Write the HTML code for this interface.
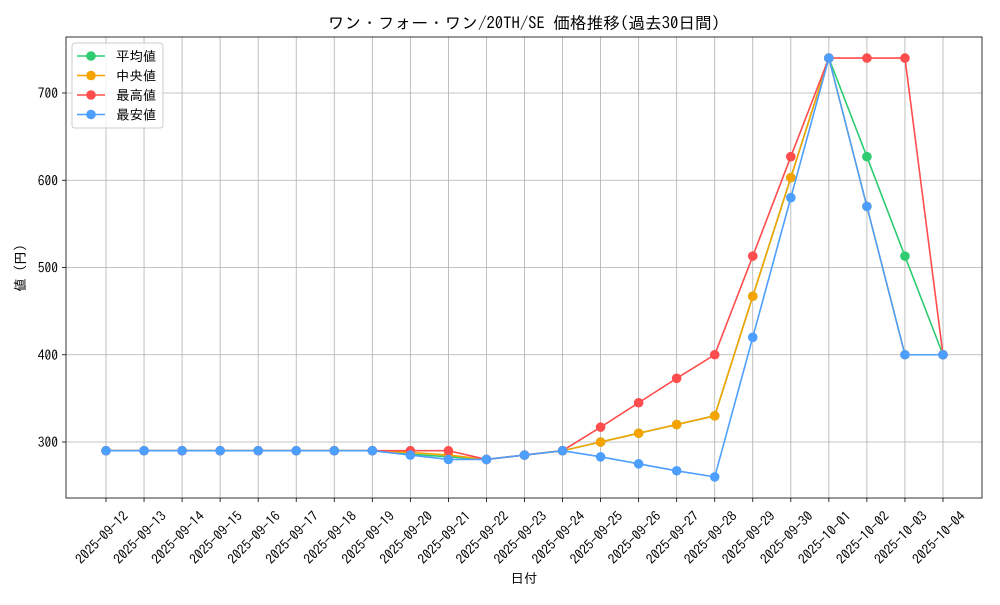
<!DOCTYPE html>
<html><head><meta charset="utf-8"><style>
body{margin:0;background:#fff}
svg text{font-family:"IPAGothic","Noto Sans CJK JP",sans-serif;fill:#000}
</style></head><body>
<svg id="s" width="1000" height="600" xmlns="http://www.w3.org/2000/svg"></svg>
<script>
const s=document.getElementById('s');const NS='http://www.w3.org/2000/svg';
function el(t,a,txt){const e=document.createElementNS(NS,t);for(const k in a)e.setAttribute(k,a[k]);if(txt!=null)e.textContent=txt;s.appendChild(e);return e;}
const L=66,R=982,T=37,B=498;
const X=i=>106+i*38.045, Y=v=>442-(v-300)*0.8725;
const dates=[];for(let d=12;d<=30;d++)dates.push('2025-09-'+d);for(let d=1;d<=4;d++)dates.push('2025-10-0'+d);
dates.forEach((d,i)=>{el('line',{x1:X(i),x2:X(i),y1:T,y2:B,stroke:'#b0b0b0','stroke-width':0.8});
 el('line',{x1:X(i),x2:X(i),y1:B,y2:B+4,stroke:'#000','stroke-width':0.8});
 el('text',{x:0,y:0,'font-size':13.5,'text-anchor':'end',transform:`translate(${X(i)+23},${B+19}) rotate(-45)`},d);});
[300,400,500,600,700].forEach(v=>{el('line',{x1:L,x2:R,y1:Y(v),y2:Y(v),stroke:'#b0b0b0','stroke-width':0.8});
 el('line',{x1:L-4,x2:L,y1:Y(v),y2:Y(v),stroke:'#000','stroke-width':0.8});
 el('text',{x:L-8,y:Y(v)+5,'font-size':13.5,'text-anchor':'end'},v);});
el('rect',{x:L,y:T,width:R-L,height:B-T,fill:'none',stroke:'#000','stroke-width':0.8});
const base=[290,290,290,290,290,290,290,290];
const series=[
['#2ecc71',base.concat([286,283,280,285,290,300,310,320,330,467,603,740,627,513,400])],
['#f5a300',base.concat([288,285,280,285,290,300,310,320,330,467,603,740,570,400,400])],
['#ff4d4d',base.concat([290,290,280,285,290,317,345,373,400,513,627,740,740,740,400])],
['#4d9fff',base.concat([285,280,280,285,290,283,275,267,260,420,580,740,570,400,400])]];
series.forEach(([c,d])=>{el('polyline',{points:d.map((v,i)=>X(i)+','+Y(v)).join(' '),fill:'none',stroke:c,'stroke-width':1.6});
 d.forEach((v,i)=>el('circle',{cx:X(i),cy:Y(v),r:4.8,fill:c}));});
el('text',{x:524,y:29,'font-size':16.7,'text-anchor':'middle'},'ワン・フォー・ワン/20TH/SE 価格推移(過去30日間)');
el('text',{x:524,y:583,'font-size':13.5,'text-anchor':'middle'},'日付');
el('text',{x:0,y:0,'font-size':13.5,'text-anchor':'middle',transform:'translate(25,268) rotate(-90)'},'値 (円)');
el('rect',{x:72,y:43,width:91,height:85,rx:3,fill:'#fff','fill-opacity':0.8,stroke:'#ccc'});
['平均値','中央値','最高値','最安値'].forEach((n,i)=>{const y=56+i*19.5,c=series[i][0];
 el('line',{x1:77,x2:105,y1:y,y2:y,stroke:c,'stroke-width':1.6});el('circle',{cx:91,cy:y,r:4.8,fill:c});
 el('text',{x:116,y:y+5,'font-size':13.5},n);});
</script>
</body></html>
